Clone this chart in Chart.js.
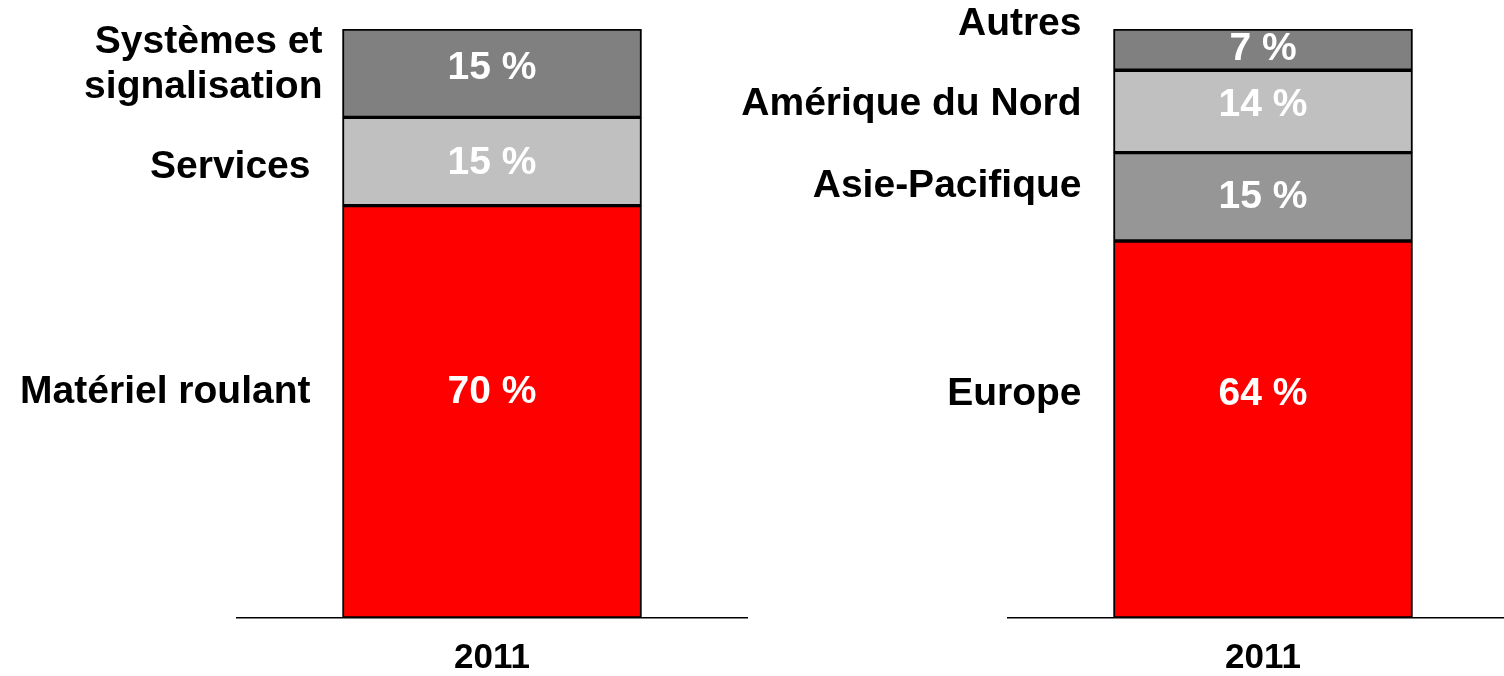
<!DOCTYPE html>
<html>
<head>
<meta charset="utf-8">
<script src="https://cdn.jsdelivr.net/npm/chart.js@4/dist/chart.umd.min.js"></script>
<style>
  html, body { margin: 0; padding: 0; background: #fff; overflow: hidden; width: 1504px; height: 676px; }
  #wrap { position: relative; width: 1504px; height: 676px; overflow: hidden; }
  canvas { position: absolute; top: 0; }
  #c1 { left: 0; }
  #c2 { left: 700px; }
</style>
</head>
<body>
<div id="wrap">
  <canvas id="c1" width="752" height="710"></canvas>
  <canvas id="c2" width="830" height="710"></canvas>
</div>
<script>
// ---- Data ----
const years = ['2011'];
const activityLabels = ['Matériel roulant', 'Services', ['Systèmes et', 'signalisation']];
const activityValues = [70, 15, 15];
const regionLabels = ['Europe', 'Asie-Pacifique', 'Amérique du Nord', 'Autres'];
const regionValues = [64, 15, 14, 7];

// ---- Styles ----
const activityColors = ['#FF0000', '#C0C0C0', '#808080'];
const regionColors = ['#FF0000', '#969696', '#C0C0C0', '#808080'];
const FONT = "'Liberation Sans', Arial, Helvetica, sans-serif";

const segLabelPlugin = {
  id: 'segLabels',
  afterDatasetsDraw(chart, args, opts) {
    const ctx = chart.ctx;
    ctx.save();
    ctx.font = 'bold 39px ' + FONT;
    chart.data.datasets.forEach((ds, i) => {
      const meta = chart.getDatasetMeta(i);
      const bar = meta.data[0];
      if (!bar) return;
      const cy = (bar.y + bar.base) / 2;
      const left = bar.x - bar.width / 2;
      // value label
      ctx.fillStyle = '#FFFFFF';
      ctx.textAlign = 'center';
      ctx.textBaseline = 'middle';
      ctx.fillText(ds.data[0] + ' %', bar.x, cy + (opts.valueDy[i] || 0));
      // series label
      ctx.fillStyle = '#000000';
      ctx.textAlign = 'right';
      const lines = Array.isArray(ds.label) ? ds.label : [ds.label];
      const lh = 45;
      const x = left - 32 + (opts.labelDx[i] || 0);
      const y0 = cy + (opts.labelDy[i] || 0) - (lines.length - 1) * lh / 2;
      lines.forEach((ln, k) => ctx.fillText(ln, x, y0 + k * lh));
    });
    ctx.restore();
  }
};

function makeChart(id, labels, values, colors, padding, labelOpts) {
  return new Chart(document.getElementById(id), {
    type: 'bar',
    data: {
      labels: years,
      datasets: labels.map((l, i) => ({
        label: l,
        data: [values[i]],
        backgroundColor: colors[i],
        borderColor: '#000000',
        borderWidth: 2,
        borderSkipped: false,
        barThickness: 299
      }))
    },
    options: {
      responsive: false,
      animation: false,
      devicePixelRatio: 1,
      layout: { padding: padding },
      plugins: {
        legend: { display: false },
        tooltip: { enabled: false },
        segLabels: labelOpts
      },
      scales: {
        x: {
          stacked: true,
          grid: { display: false, drawTicks: false },
          border: { display: true, color: '#000000', width: 1.5 },
          ticks: { color: '#000000', padding: 19, font: { family: FONT, size: 35, weight: 'bold' } }
        },
        y: {
          stacked: true,
          display: false,
          min: 0,
          max: 100
        }
      }
    },
    plugins: [segLabelPlugin]
  });
}

makeChart('c1', activityLabels, activityValues, activityColors,
  { left: 237, right: 5, top: 29, bottom: 12 },
  { valueDy: [-20, 2, -5], labelDy: [-20, 6, -8], labelDx: [0, 0, 12] });

makeChart('c2', regionLabels, regionValues, regionColors,
  { left: 308, right: 12, top: 29, bottom: 12 },
  { valueDy: [-35, 0, -6, 0], labelDy: [-35, -11, -7, -25], labelDx: [0, 0, 0, 0] });
</script>
</body>
</html>
